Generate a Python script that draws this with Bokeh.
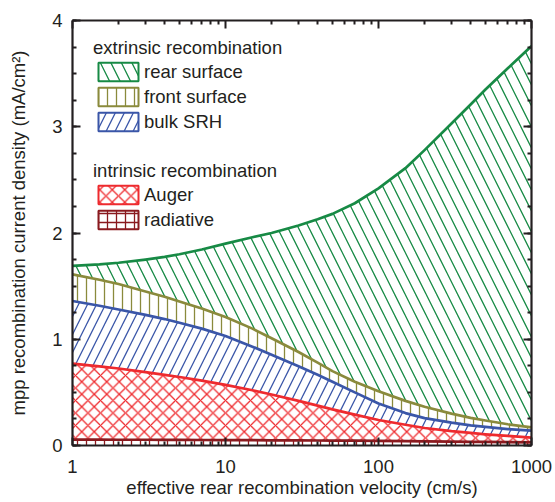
import numpy as np
from bokeh.plotting import figure
from bokeh.models import (Range1d, LogAxis, LinearAxis, FixedTicker, SingleIntervalTicker,
                          PrintfTickFormatter, CustomJSTickFormatter, Legend, LegendItem)
from bokeh.embed import file_html
from bokeh.resources import INLINE

# ---- data (cumulative curve levels, mA/cm^2) ----
velocity = [1, 1.5, 2, 3, 4, 5, 7, 10, 15, 20, 30, 40, 50, 70,
            100, 150, 200, 300, 400, 500, 700, 1000]
radiative_top = [0.055, 0.055, 0.054, 0.054, 0.053, 0.053, 0.052, 0.051, 0.050, 0.049, 0.048,
                 0.047, 0.046, 0.045, 0.043, 0.041, 0.039, 0.037, 0.035, 0.034, 0.032, 0.030]
auger_top = [0.77, 0.745, 0.725, 0.69, 0.665, 0.645, 0.61, 0.57, 0.52, 0.48, 0.42,
             0.375, 0.34, 0.29, 0.24, 0.195, 0.165, 0.135, 0.118, 0.105, 0.09, 0.075]
bulk_srh_top = [1.36, 1.315, 1.28, 1.23, 1.19, 1.155, 1.10, 1.03, 0.93, 0.855, 0.745,
                0.665, 0.60, 0.50, 0.395, 0.305, 0.258, 0.215, 0.19, 0.175, 0.155, 0.14]
front_surface_top = [1.61, 1.56, 1.52, 1.45, 1.40, 1.355, 1.29, 1.21, 1.10, 1.01, 0.88,
                     0.78, 0.70, 0.60, 0.51, 0.42, 0.365, 0.30, 0.26, 0.235, 0.20, 0.17]
rear_surface_top = [1.69, 1.705, 1.72, 1.75, 1.775, 1.80, 1.845, 1.90, 1.96, 2.00, 2.07,
                    2.13, 2.18, 2.28, 2.42, 2.61, 2.78, 3.03, 3.21, 3.35, 3.55, 3.76]
zero_level = [0.0] * len(velocity)

x_ticks = [1, 10, 100, 1000]
x_minor_ticks = [2, 3, 4, 5, 6, 7, 8, 9, 20, 30, 40, 50, 60, 70, 80, 90,
                 200, 300, 400, 500, 600, 700, 800, 900]

extrinsic_title = "extrinsic recombination"
intrinsic_title = "intrinsic recombination"
x_label = "effective rear recombination velocity (cm/s)"
y_label = "mpp recombination current density (mA/cm\u00b2)"

FONT = "Liberation Sans"
TEXT = "#231f20"
FS = "18.5px"

GREEN = "#178a45"
OLIVE = "#8a8a3c"
BLUE = "#3a56a8"
RED = "#ee2a2e"
DARKRED = "#8a1a1f"

p = figure(width=555, height=502, x_axis_type="log",
           x_range=Range1d(1, 1000), y_range=Range1d(0, 4),
           output_backend="svg", toolbar_location=None,
           min_border_left=72, min_border_right=24, min_border_top=20, min_border_bottom=57)
p.grid.visible = False
p.outline_line_color = None

layers = [
    ("rear surface", front_surface_top, rear_surface_top, GREEN, "\\", 21),
    ("front surface", bulk_srh_top, front_surface_top, OLIVE, "|", 9),
    ("bulk SRH", auger_top, bulk_srh_top, BLUE, "/", 18),
    ("Auger", radiative_top, auger_top, RED, "x", 12.5),
    ("radiative", zero_level, radiative_top, DARKRED, "+", 9),
]

for name, lo, hi, col, pat, sc in layers:
    p.varea(x=velocity, y1=lo, y2=hi, fill_color=None, fill_alpha=0,
            hatch_pattern=pat, hatch_color=col, hatch_scale=sc, hatch_weight=1.3)
for name, lo, hi, col, pat, sc in reversed(layers):
    p.line(x=velocity, y=hi, line_color=col, line_width=2.7, line_join="round")

# legend swatches (glyph styles only; NaN data so nothing is drawn in the plot area)
nan = np.array([np.nan])
swatches = {}
for name, lo, hi, col, pat, sc in layers:
    swatches[name] = p.quad(left=nan, right=nan, bottom=nan, top=nan, fill_color=None,
                            line_color=col, line_width=2, hatch_pattern=pat,
                            hatch_color=col, hatch_scale=sc, hatch_weight=1.3)


def style_axis(ax, labels=True):
    ax.axis_line_width = 2.2
    ax.axis_line_color = TEXT
    ax.major_tick_line_color = TEXT
    ax.minor_tick_line_color = TEXT
    ax.major_tick_line_width = 2
    ax.minor_tick_line_width = 2
    ax.major_tick_in = 8
    ax.major_tick_out = 0
    ax.minor_tick_in = 4
    ax.minor_tick_out = 0
    ax.major_label_text_font = FONT
    ax.major_label_text_color = TEXT
    ax.major_label_text_font_size = FS
    ax.axis_label_text_font = FONT
    ax.axis_label_text_color = TEXT
    ax.axis_label_text_font_style = "normal"
    ax.axis_label_text_font_size = FS
    if not labels:
        ax.formatter = CustomJSTickFormatter(code="return '';")
        ax.major_label_standoff = 0
        ax.major_label_text_font_size = "2px"


xticker = FixedTicker(ticks=x_ticks, minor_ticks=x_minor_ticks)
yticker = SingleIntervalTicker(interval=1, num_minor_ticks=4)

xa = p.xaxis[0]
xa.ticker = xticker
xa.formatter = PrintfTickFormatter(format="%d")
xa.axis_label = x_label
style_axis(xa)
xa.major_label_standoff = 14
xa.axis_label_standoff = 1

ya = p.yaxis[0]
ya.ticker = yticker
ya.axis_label = y_label
style_axis(ya)
ya.major_label_standoff = 10
ya.axis_label_standoff = 20

top_ax = LogAxis(ticker=xticker)
style_axis(top_ax, labels=False)
p.add_layout(top_ax, "above")
right_ax = LinearAxis(ticker=yticker)
style_axis(right_ax, labels=False)
p.add_layout(right_ax, "right")


def make_legend(title, names, loc):
    lg = Legend(items=[LegendItem(label=n, renderers=[swatches[n]]) for n in names],
                location=loc, title=title, orientation="vertical")
    lg.title_text_font = FONT
    lg.title_text_font_size = FS
    lg.title_text_font_style = "normal"
    lg.title_text_color = TEXT
    lg.title_standoff = 1
    lg.label_text_font = FONT
    lg.label_text_font_size = FS
    lg.label_text_color = TEXT
    lg.glyph_width = 50
    lg.glyph_height = 23
    lg.label_height = 20
    lg.label_standoff = 1
    lg.spacing = 2
    lg.padding = 0
    lg.margin = 0
    lg.border_line_color = None
    lg.background_fill_alpha = 0
    p.add_layout(lg, "center")
    return lg


make_legend(extrinsic_title, ["rear surface", "front surface", "bulk SRH"], (21, 312))
make_legend(intrinsic_title, ["Auger", "radiative"], (21, 214))

open("out.html", "w").write(file_html(p, INLINE))
